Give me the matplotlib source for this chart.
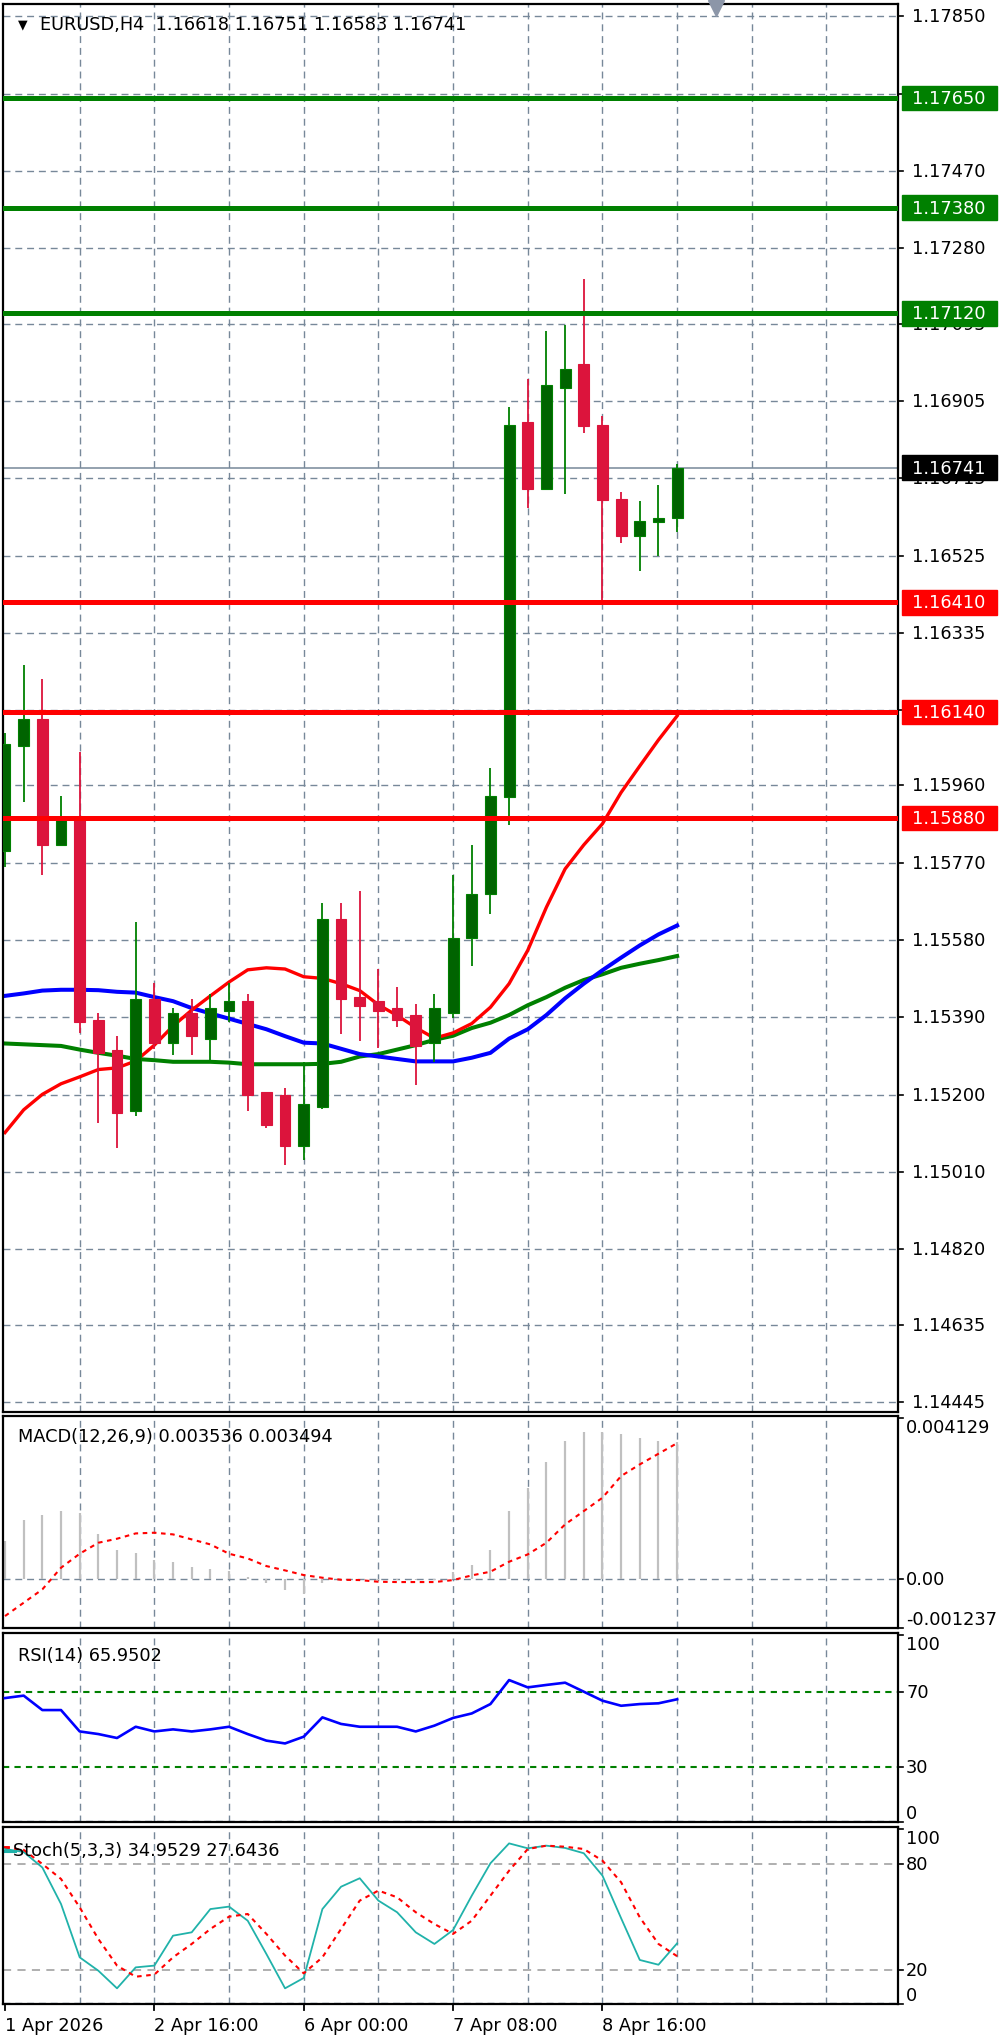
import matplotlib.pyplot as plt
from matplotlib.transforms import blended_transform_factory
from matplotlib.patches import Rectangle

# EURUSD H4 bars (bar 0 = 1 Apr 08:00)
opens = [1.15799, 1.16056, 1.16124, 1.15815, 1.15882, 1.15384, 1.15309, 1.15160,
         1.15436, 1.15326, 1.15401, 1.15338, 1.15407, 1.15430, 1.15206, 1.15200,
         1.15074, 1.15171, 1.15631, 1.15441, 1.15430, 1.15413, 1.15395, 1.15326,
         1.15401, 1.15585, 1.15694, 1.15931, 1.16853, 1.16688, 1.16936, 1.16995,
         1.16847, 1.16664, 1.16573, 1.16608, 1.16618]
highs = [1.16089, 1.16257, 1.16221, 1.15934, 1.16043, 1.15400, 1.15344, 1.15625,
         1.15475, 1.15413, 1.15436, 1.15447, 1.15475, 1.15447, 1.15206, 1.15217,
         1.15281, 1.15671, 1.15671, 1.15700, 1.15510, 1.15464, 1.15424, 1.15447,
         1.15740, 1.15815, 1.16003, 1.16889, 1.16958, 1.17076, 1.17092, 1.17204,
         1.16869, 1.16681, 1.16659, 1.16699, 1.16751]
lows = [1.15759, 1.15919, 1.15740, 1.15815, 1.15352, 1.15131, 1.15068, 1.15148,
        1.15313, 1.15298, 1.15298, 1.15286, 1.15378, 1.15160, 1.15119, 1.15027,
        1.15039, 1.15165, 1.15350, 1.15332, 1.15315, 1.15367, 1.15223, 1.15281,
        1.15389, 1.15516, 1.15643, 1.15863, 1.16642, 1.16688, 1.16677, 1.16826,
        1.16417, 1.16557, 1.16486, 1.16524, 1.16583]
closes = [1.16061, 1.16124, 1.15815, 1.15882, 1.15378, 1.15303, 1.15154, 1.15436,
          1.15326, 1.15401, 1.15344, 1.15413, 1.15430, 1.15200, 1.15126, 1.15074,
          1.15177, 1.15631, 1.15436, 1.15419, 1.15407, 1.15384, 1.15320, 1.15413,
          1.15585, 1.15694, 1.15934, 1.16847, 1.16688, 1.16944, 1.16984, 1.16843,
          1.16661, 1.16573, 1.16611, 1.16618, 1.16741]

ma_red = [1.15107, 1.15163, 1.15201, 1.15227, 1.15244, 1.15262, 1.15266, 1.15283,
          1.15322, 1.15369, 1.15408, 1.15443, 1.15477, 1.15507, 1.15512, 1.15509,
          1.15490, 1.15486, 1.15473, 1.15456, 1.15421, 1.15395, 1.15365, 1.15339,
          1.15352, 1.15375, 1.15415, 1.15473, 1.15555, 1.15661, 1.15755, 1.15814,
          1.15866, 1.15943, 1.16008, 1.16072, 1.16131]
ma_blue = [1.15443, 1.15449, 1.15456, 1.15458, 1.15458, 1.15457, 1.15453, 1.15451,
           1.15440, 1.15430, 1.15413, 1.15400, 1.15387, 1.15374, 1.15361, 1.15344,
           1.15328, 1.15326, 1.15313, 1.15300, 1.15294, 1.15288, 1.15282, 1.15282,
           1.15282, 1.15291, 1.15303, 1.15338, 1.15361, 1.15396, 1.15437, 1.15473,
           1.15506, 1.15537, 1.15567, 1.15594, 1.15616]
ma_green = [1.15326, 1.15324, 1.15322, 1.15320, 1.15311, 1.15303, 1.15296, 1.15288,
            1.15285, 1.15281, 1.15281, 1.15281, 1.15279, 1.15275, 1.15275, 1.15275,
            1.15275, 1.15276, 1.15281, 1.15294, 1.15300, 1.15311, 1.15322, 1.15335,
            1.15345, 1.15364, 1.15377, 1.15396, 1.15420, 1.15440, 1.15463, 1.15482,
            1.15496, 1.15512, 1.15522, 1.15531, 1.15541]

macd_hist = [0.000983, 0.001513, 0.001641, 0.001752, 0.001692, 0.001154, 0.000744, 0.000675,
             0.000496, 0.000444, 0.000316, 0.000256, 0.000214, 0.000068, -0.000085, -0.000274,
             -0.000385, -0.000085, -0.000020, 0.000000, -0.000010, -0.000010, -0.000010, -0.000010,
             0.000197, 0.000368, 0.000744, 0.001752, 0.002350, 0.003009, 0.003547, 0.003786,
             0.003786, 0.003718, 0.003615, 0.003560, 0.003536]
macd_signal = [-0.000940, -0.000598, -0.000256, 0.000299, 0.000658, 0.000940, 0.001043, 0.001179,
               0.001197, 0.001154, 0.001026, 0.000897, 0.000658, 0.000538, 0.000342, 0.000231,
               0.000111, 0.000043, -0.000009, -0.000017, -0.000060, -0.000068, -0.000068, -0.000068,
               -0.000017, 0.000103, 0.000197, 0.000453, 0.000641, 0.000940, 0.001410, 0.001752,
               0.002094, 0.002650, 0.002949, 0.003222, 0.003494]

rsi = [66.6, 67.9, 60.2, 60.2, 48.8, 47.4, 45.3, 51.3, 48.8, 49.9, 48.8, 49.9, 51.3,
       47.4, 43.9, 42.4, 46.0, 56.3, 52.8, 51.3, 51.3, 51.3, 48.8, 51.9, 56.0, 58.4,
       63.4, 76.2, 72.3, 73.6, 74.8, 70.0, 65.2, 62.5, 63.4, 63.8, 65.9502]

stoch_main = [88.5, 86.8, 78.0, 57.3, 27.0, 19.4, 9.4, 21.3, 22.3, 39.3, 41.2, 54.4, 55.8,
              47.8, 28.9, 9.4, 15.3, 54.4, 67.1, 71.9, 59.2, 52.6, 41.2, 34.6, 42.5, 62.0,
              80.4, 91.7, 88.9, 90.4, 89.1, 86.1, 73.4, 49.2, 25.5, 22.8, 34.9529]
stoch_signal = [89.5, 88.0, 80.0, 71.5, 55.4, 37.4, 22.3, 16.0, 17.2, 27.0, 34.6, 43.1, 50.1,
                51.6, 40.3, 28.0, 17.9, 27.0, 43.1, 59.2, 64.9, 61.1, 52.6, 45.9, 40.3, 47.8,
                62.0, 76.2, 88.5, 90.4, 89.8, 88.5, 81.9, 69.6, 49.7, 34.6, 27.6436]

# 1.17660 and 1.16145 sit behind the level boxes, so they get a grid line only
price_grid = [1.17850, 1.17660, 1.17470, 1.17280, 1.17095, 1.16905, 1.16715, 1.16525,
              1.16335, 1.16145, 1.15960, 1.15770, 1.15580, 1.15390, 1.15200, 1.15010,
              1.14820, 1.14635, 1.14445]
hidden_labels = [1.17660, 1.16145]
resistance = [1.17650, 1.17380, 1.17120]
support = [1.16410, 1.16140, 1.15880]
last_price = 1.16741

time_ticks = [0, 8, 16, 24, 32]
time_labels = ['1 Apr 2026', '2 Apr 16:00', '6 Apr 00:00', '7 Apr 08:00', '8 Apr 16:00']

GRID = '#778899'
BULL_BODY = '#006400'
BULL = '#008000'
BEAR = '#DC143C'
FS = 12.8

plt.rcParams['font.family'] = 'DejaVu Sans'

W, H = 1000, 2040
fig = plt.figure(figsize=(10, 20.4), dpi=100)
fig.patch.set_facecolor('white')


def panel(top, bottom):
    ax = fig.add_axes([3 / W, 1 - bottom / H, 895 / W, (bottom - top) / H])
    ax.set_xlim(-0.107, 47.83)
    ax.set_xticks([])
    ax.set_yticks([])
    for s in ax.spines.values():
        s.set_linewidth(1.6)
        s.set_color('black')
    for g in range(4, 48, 4):
        ax.axvline(g, color=GRID, lw=1.0, ls=(0, (5, 3.5)), zorder=0.5)
    return ax


def right_label(ax, y, text, x_px=906, va='center', show=True):
    tr = blended_transform_factory(ax.transAxes, ax.transData)
    if show:
        ax.text((x_px - 3) / 895, y, text, transform=tr, ha='left', va=va,
                fontsize=FS, color='black', clip_on=False)
    ax.plot([1.0, 1.0056], [y, y], transform=tr, color='black', lw=1.2, clip_on=False)


def price_box(ax, y, text, color):
    tr = blended_transform_factory(ax.transAxes, ax.transData)
    h = 0.000600
    ax.add_patch(Rectangle(((902 - 3) / 895, y - h / 2), 95 / 895, h, transform=tr,
                           facecolor=color, edgecolor=color, clip_on=False, zorder=6))
    ax.text((912 - 3) / 895, y, text, transform=tr, ha='left', va='center',
            fontsize=FS, color='white', clip_on=False, zorder=7)


idx = list(range(len(opens)))

# main price panel
ax = panel(5, 1413)
ax.set_ylim(1.144204, 1.178805)
for g in price_grid:
    ax.axhline(g, color=GRID, lw=1.0, ls=(0, (5, 3.5)), zorder=0.5)
    right_label(ax, g, '%.5f' % g, x_px=912, show=g not in hidden_labels)

ax.axhline(last_price, color=GRID, lw=1.1, zorder=1)
ax.plot(idx, ma_green, color='#008000', lw=2.9, zorder=2)
ax.plot(idx, ma_blue, color='#0000FF', lw=2.9, zorder=2)
ax.plot(idx, ma_red, color='#FF0000', lw=2.4, zorder=2)

for i in idx:
    o, h, l, c = opens[i], highs[i], lows[i], closes[i]
    up = c >= o
    wc = BULL if up else BEAR
    fc = BULL_BODY if up else BEAR
    ax.vlines(i, l, h, color=wc, lw=1.3, zorder=3)
    body = max(abs(c - o), 0.00004)
    ax.bar(i, body, bottom=min(o, c), width=0.58, color=fc, edgecolor=wc, lw=0.8, zorder=3.5)

for lv in resistance:
    ax.axhline(lv, color='#008000', lw=3.6, zorder=4)
    price_box(ax, lv, '%.5f' % lv, '#008000')
for lv in support:
    ax.axhline(lv, color='#FF0000', lw=3.6, zorder=4)
    price_box(ax, lv, '%.5f' % lv, '#FF0000')
price_box(ax, last_price, '%.5f' % last_price, 'black')

ax.text(20 / 895, 1 - 20 / 1408, '\u25BC', transform=ax.transAxes, fontsize=9,
        ha='center', va='center', color='black')
ax.text(37 / 895, 1 - 20 / 1408,
        'EURUSD,H4  %.5f %.5f %.5f %.5f' % (opens[-1], highs[-1], lows[-1], closes[-1]),
        transform=ax.transAxes, fontsize=FS, ha='left', va='center', color='black')
ax.plot([38.1], [1.0 - 4 / 1408], transform=blended_transform_factory(ax.transData, ax.transAxes),
        marker='v', markersize=11, color='#8C96A8', clip_on=False, zorder=8)

# MACD panel
axm = panel(1417, 1629)
axm.set_ylim(-0.001246, 0.00419)
axm.axhline(0, color=GRID, lw=1.0, ls=(0, (5, 3.5)), zorder=0.5)
axm.vlines(idx, 0, macd_hist, color='#C0C0C0', lw=1.6, zorder=2)
axm.plot(idx, macd_signal, color='#FF0000', lw=1.5, ls=(0, (2.2, 2.2)), zorder=3)
right_label(axm, 0.004129, '0.004129', va='top')
right_label(axm, 0.0, '0.00')
right_label(axm, -0.001237, '-0.001237', va='bottom')
axm.text(15 / 895, 1 - 20 / 212, 'MACD(12,26,9) %.6f %.6f' % (macd_hist[-1], macd_signal[-1]),
         transform=axm.transAxes, fontsize=FS, ha='left', va='center')

# RSI panel
axr = panel(1634, 1823)
axr.set_ylim(0.5, 101.3)
axr.axhline(1.2, color=GRID, lw=1.0, ls=(0, (5, 3.5)), zorder=0.5)
for lv in (70, 30):
    axr.axhline(lv, color='#008000', lw=1.5, ls=(0, (3, 2.5)), zorder=1)
axr.plot(idx, rsi, color='#0000FF', lw=1.9, zorder=3)
right_label(axr, 100, '100', va='top')
right_label(axr, 70, '70')
right_label(axr, 30, '30')
right_label(axr, 0.5, '0', va='bottom')
axr.text(15 / 895, 1 - 22 / 189, 'RSI(14) %.4f' % rsi[-1],
         transform=axr.transAxes, fontsize=FS, ha='left', va='center')

# Stochastic panel
axs = panel(1828, 2005)
axs.set_ylim(0.5, 101)
axs.axhline(1.0, color=GRID, lw=1.0, ls=(0, (5, 3.5)), zorder=0.5)
for lv in (80, 20):
    axs.axhline(lv, color='#A9A9A9', lw=1.3, ls=(0, (4.5, 3.5)), zorder=1)
axs.plot(idx, stoch_main, color='#20B2AA', lw=1.3, zorder=3)
axs.plot(idx, stoch_signal, color='#FF0000', lw=1.5, ls=(0, (2.2, 2.2)), zorder=3)
right_label(axs, 100, '100', va='top')
right_label(axs, 80, '80')
right_label(axs, 20, '20')
right_label(axs, 0.5, '0', va='bottom')
axs.plot([0.0, 12 / 895], [1 - 24 / 177, 1 - 24 / 177], transform=axs.transAxes,
         color='#20B2AA', lw=2.2, clip_on=False)
axs.plot([0.0, 5 / 895], [1 - 20 / 177, 1 - 20 / 177], transform=axs.transAxes,
         color='#FF0000', lw=2.0, clip_on=False)
axs.text(10 / 895, 1 - 23 / 177, 'Stoch(5,3,3) %.4f %.4f' % (stoch_main[-1], stoch_signal[-1]),
         transform=axs.transAxes, fontsize=FS, ha='left', va='center')

# time axis under the last panel
trx = blended_transform_factory(axs.transData, axs.transAxes)
for t, lab in zip(time_ticks, time_labels):
    axs.plot([t, t], [0, -6 / 177], transform=trx, color='black', lw=1.3, clip_on=False)
    axs.text(t, -21 / 177, lab, transform=trx, ha='left', va='center',
             fontsize=FS, clip_on=False)

fig.savefig('out.png', dpi=100, facecolor='white')
